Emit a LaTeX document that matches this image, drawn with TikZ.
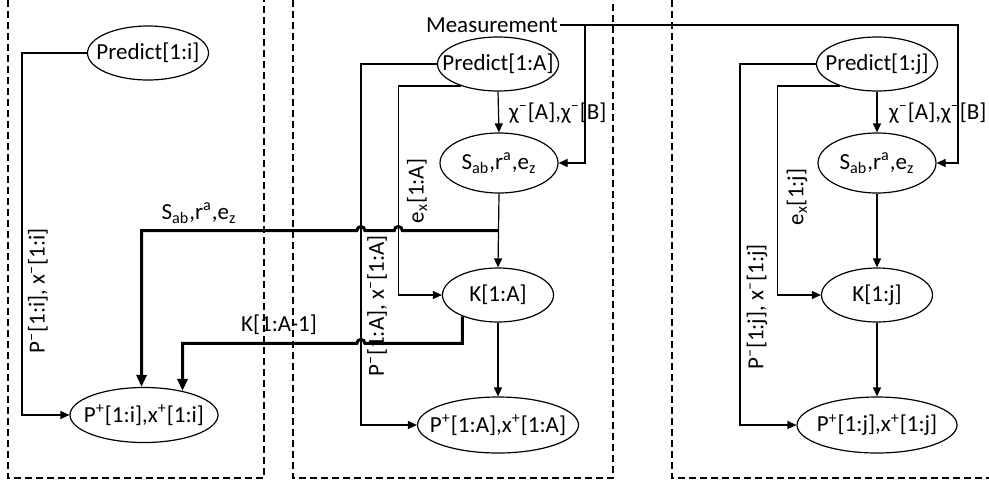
\documentclass[tikz,border=0pt]{standalone}
\usepackage{fontspec}
\setmainfont{Carlito}
\usetikzlibrary{shapes.geometric,arrows.meta,calc}

\tikzset{
	blk/.style={ellipse, draw, line width=0.6pt, inner xsep=-9pt, inner ysep=-4pt, minimum height=27pt},
	ln/.style={line width=0.6pt, -{Triangle[length=4.5pt,width=4pt]}},
	bus/.style={line width=1.5pt, -{Triangle[length=6pt,width=5pt]}},
	frame/.style={line width=0.6pt, dash pattern=on 3.5pt off 2pt},
}

\begin{document}
\begin{tikzpicture}[x=0.5pt,y=0.5pt,font=\fontsize{11.5}{13}\selectfont]
			\useasboundingbox (0,0) rectangle (989,484);
			% frames
			\draw[frame] (8,484) -- (8,6) -- (264,6) -- (264,484);
			\draw[frame] (293,484) -- (293,6) -- (613,6) -- (613,484);
			\draw[frame] (672,484) -- (672,6) -- (995,6);
			\begin{scope}
				% agent i
				\node[blk, minimum width=60.5pt] (pi) at (148,431) {Predict[1:i]};
				\node[blk, minimum width=74pt, minimum height=27.5pt] (ppi) at (144,69) {P\textsuperscript{+}[1:i],x\textsuperscript{+}[1:i]};
				\draw[ln] (pi.west) -- ++(-65,0) |- (ppi.west);
				\node[rotate=90] (lpi) at (38,193) {P\textsuperscript{–}[1:i], x\textsuperscript{–}[1:i]};
			\end{scope}
			\begin{scope}
				% agent A
				\node[inner sep=1pt] (meas) at (492,459) {Measurement};
				\node[blk, minimum width=60.5pt] (pa) at (498,420) {Predict[1:A]};
				\node[blk, minimum width=59pt, minimum height=30pt] (sa) at (499,321) {S\textsubscript{ab},r\textsuperscript{a},e\textsubscript{z}};
				\node[blk, minimum width=55.5pt] (ka) at (498,189) {K[1:A]};
				\node[blk, minimum width=80.5pt, minimum height=28pt] (ppa) at (498,59) {P\textsuperscript{+}[1:A],x\textsuperscript{+}[1:A]};
				\coordinate (ma) at (585,459);
				\coordinate (ja) at ($(sa.south)!0.5!(ka.north)$);
				\draw[ln] (pa.south) -- (sa.north);
				\draw[ln] (ma) |- (sa.east);
				\draw[ln] (sa.south) -- (ka.north);
				\draw[ln] (ka.south) -- (ppa.north);
				\draw[ln] (pa.west) -- ++(-76,0) coordinate (cpa) |- (ppa.west);
				\draw[ln] (pa.211) -- ++(-63,0) coordinate (cea) |- (ka.west);
				\node[anchor=west] (xa) at (502,371) {χ\textsuperscript{–}[A],χ\textsuperscript{–}[B]};
				\node[rotate=90] (lea) at (417,293) {e\textsubscript{x}[1:A]};
				\node[rotate=90] (lpa) at (377,178) {P\textsuperscript{–}[1:A], x\textsuperscript{–}[1:A]};
			\end{scope}
			% bus lines to agent i
			\draw[bus] (ja) -- ($(cea |- ja)+(4,0)$) arc[start angle=0,end angle=180,radius=2pt]
				-- ($(cpa |- ja)+(4,0)$) arc[start angle=0,end angle=180,radius=2pt] -| (ppi.95);
			\draw[bus] (ka.211) -- ++(0,-27) coordinate (kb) -- ($(cpa |- kb)+(4,0)$)
				arc[start angle=0,end angle=180,radius=2pt] -| (ppi.32);
			\node (ls) at (199,271) {S\textsubscript{ab},r\textsuperscript{a},e\textsubscript{z}};
			\node (lk) at (279,159) {K[1:A-1]};
			\begin{scope}
				% agent j
				\node[blk, minimum width=60.5pt] (pj) at (877,420) {Predict[1:j]};
				\node[blk, minimum width=59pt, minimum height=30pt] (sj) at (877,321) {S\textsubscript{ab},r\textsuperscript{a},e\textsubscript{z}};
				\node[blk, minimum width=55.5pt] (kj) at (877,189) {K[1:j]};
				\node[blk, minimum width=80pt, minimum height=28pt] (ppj) at (877,59) {P\textsuperscript{+}[1:j],x\textsuperscript{+}[1:j]};
				\coordinate (mj) at (958,459);
				\draw[ln] (meas.east) -- (mj) |- (sj.east);
				\draw[ln] (pj.south) -- (sj.north);
				\draw[ln] (sj.south) -- (kj.north);
				\draw[ln] (kj.south) -- (ppj.north);
				\draw[ln] (pj.west) -- ++(-76,0) |- (ppj.west);
				\draw[ln] (pj.211) -- ++(-63,0) |- (kj.west);
				\node[anchor=west] (xj) at (882,371) {χ\textsuperscript{–}[A],χ\textsuperscript{–}[B]};
				\node[rotate=90] (lej) at (797,287) {e\textsubscript{x}[1:j]};
				\node[rotate=90] (lpj) at (757,177) {P\textsuperscript{–}[1:j], x\textsuperscript{–}[1:j]};
			\end{scope}
		\end{tikzpicture}
\end{document}
